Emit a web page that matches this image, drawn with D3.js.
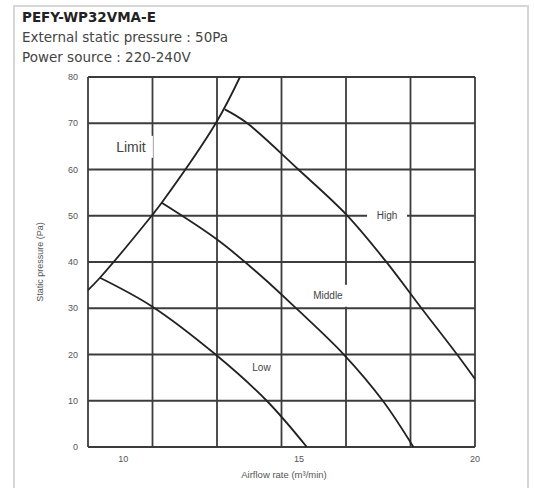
<!DOCTYPE html>
<html>
<head>
<meta charset="utf-8">
<script src="https://cdn.jsdelivr.net/npm/d3@7"></script>
<style>
  body { margin: 0; background: #fff; }
  svg { display: block; font-family: "Liberation Sans", Arial, sans-serif; }
</style>
</head>
<body>
<div id="chart"></div>
<script>
// Fan curves, airflow (m3/min) vs static pressure (Pa)
const limitX = [9.0, 9.34, 10.81, 11.095, 12.64, 13.32];
const limitY = [33.9, 36.6, 50, 52.8, 70.1, 80];

const lowX = [9.34, 10.82, 12.61, 14.08, 15.22];
const lowY = [36.6, 30.4, 20.1, 10, 0];

const middleX = [11.095, 12.66, 13.89, 14.93, 16.26, 17.38, 18.25];
const middleY = [52.8, 44.9, 37.2, 29.9, 20.1, 10, 0];

const highX = [12.89, 13.51, 14.98, 16.35, 17.44, 18.49, 19.48, 20];
const highY = [73.0, 70.1, 60, 50.2, 40.4, 29.9, 20.1, 14.7];

const xTickLabels = [10, 15, 20];
const yTickLabels = [0, 10, 20, 30, 40, 50, 60, 70, 80];

const titleLines = ["PEFY-WP32VMA-E", "External static pressure : 50Pa", "Power source : 220-240V"];

const width = 534, height = 491;

const svg = d3.select("#chart").append("svg")
    .attr("width", width)
    .attr("height", height);

// outer frame
svg.append("path")
    .attr("d", "M14,488 V6 H528 V488")
    .attr("fill", "none")
    .attr("stroke", "#d6d6d6")
    .attr("stroke-width", 2);

// header
svg.selectAll("text.title")
    .data(titleLines)
    .enter()
    .append("text")
    .attr("class", "title")
    .attr("x", 22)
    .attr("y", (d, i) => 22 + i * 20)
    .style("font-family", "'DejaVu Sans', Verdana, sans-serif")
    .style("font-size", "13.5px")
    .style("font-weight", (d, i) => i === 0 ? "bold" : "normal")
    .style("fill", (d, i) => i === 0 ? "#222" : "#444")
    .text(d => d);

const x = d3.scaleLinear().domain([9, 20]).range([88, 475]);
const y = d3.scaleLinear().domain([0, 80]).range([447, 77]);

const grid = svg.append("g")
    .attr("stroke", "#3c3c3c")
    .attr("stroke-width", 1.8);

// vertical grid divides the airflow range into 6 equal cells
const xGrid = d3.range(7).map(i => 9 + i * 11 / 6);
grid.selectAll("line.v")
    .data(xGrid)
    .enter()
    .append("line")
    .attr("x1", d => x(d)).attr("x2", d => x(d))
    .attr("y1", y(0)).attr("y2", y(80));

grid.selectAll("line.h")
    .data(yTickLabels)
    .enter()
    .append("line")
    .attr("x1", x(9)).attr("x2", x(20))
    .attr("y1", d => y(d)).attr("y2", d => y(d));

// tick labels
svg.selectAll("text.ytick")
    .data(yTickLabels)
    .enter()
    .append("text")
    .attr("x", 78)
    .attr("y", d => y(d))
    .attr("dy", "0.35em")
    .attr("text-anchor", "end")
    .style("font-size", "9px")
    .style("fill", "#555")
    .text(d => d);

svg.selectAll("text.xtick")
    .data(xTickLabels)
    .enter()
    .append("text")
    .attr("x", d => x(d))
    .attr("y", 462)
    .attr("text-anchor", "middle")
    .style("font-size", "9px")
    .style("fill", "#555")
    .text(d => d);

svg.append("text")
    .attr("x", 284)
    .attr("y", 478)
    .attr("text-anchor", "middle")
    .style("font-size", "9.5px")
    .style("fill", "#555")
    .text("Airflow rate (m³/min)");

svg.append("text")
    .attr("transform", "translate(43,262) rotate(-90)")
    .attr("text-anchor", "middle")
    .style("font-size", "9px")
    .style("fill", "#555")
    .text("Static pressure (Pa)");

// curves
const line = d3.line()
    .x(d => x(d[0]))
    .y(d => y(d[1]))
    .curve(d3.curveCatmullRom.alpha(0.5));

const series = [
    [limitX, limitY],
    [lowX, lowY],
    [middleX, middleY],
    [highX, highY]
];

svg.append("g")
    .selectAll("path")
    .data(series)
    .enter()
    .append("path")
    .attr("d", s => line(d3.zip(s[0], s[1])))
    .attr("fill", "none")
    .attr("stroke", "#222")
    .attr("stroke-width", 1.8);

// curve labels on white patches
const labels = [
    { text: "Limit", x: 10.22, y: 64.9, size: 14, w: 44, h: 22 },
    { text: "High", x: 17.5, y: 50, size: 10, w: 40, h: 10 },
    { text: "Middle", x: 15.82, y: 32.7, size: 10, w: 44, h: 22 },
    { text: "Low", x: 13.93, y: 17.1, size: 10, w: 26, h: 12 }
];

const lbl = svg.append("g")
    .selectAll("g")
    .data(labels)
    .enter()
    .append("g")
    .attr("transform", d => `translate(${x(d.x)},${y(d.y)})`);

lbl.append("rect")
    .attr("x", d => -d.w / 2)
    .attr("y", d => -d.h / 2)
    .attr("width", d => d.w)
    .attr("height", d => d.h)
    .attr("fill", "#fff");

lbl.append("text")
    .attr("text-anchor", "middle")
    .attr("dy", "0.35em")
    .style("font-size", d => d.size + "px")
    .style("fill", "#444")
    .text(d => d.text);
</script>
</body>
</html>
